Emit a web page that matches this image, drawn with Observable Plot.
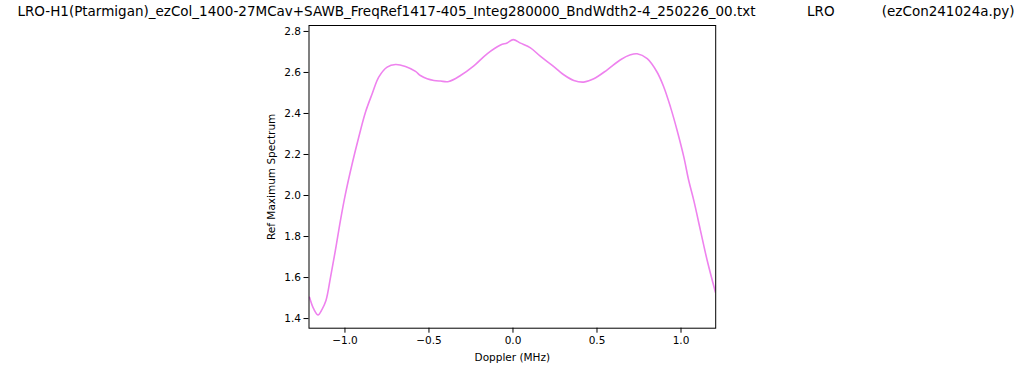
<!DOCTYPE html>
<html>
<head>
<meta charset="utf-8">
<script src="https://cdn.jsdelivr.net/npm/d3@7"></script>
<script src="https://cdn.jsdelivr.net/npm/@observablehq/plot@0.6"></script>
<style>
  html, body { margin: 0; padding: 0; background: #fff; }
  #wrap { position: relative; width: 1024px; height: 372px; overflow: hidden; font-family: "DejaVu Sans", sans-serif; }
  #title { position: absolute; left: 0; top: 3px; width: 1032px; text-align: center; white-space: pre; font-size: 13.5px; color: #000; }
  #chart { position: absolute; left: 0; top: 0; }
</style>
</head>
<body>
<div id="wrap">
  <div id="chart"></div>
  <div id="title"></div>
</div>
<script>
const titleText = "LRO-H1(Ptarmigan)_ezCol_1400-27MCav+SAWB_FreqRef1417-405_Integ280000_BndWdth2-4_250226_00.txt            LRO           (ezCon241024a.py)";
const xLabel = "Doppler (MHz)";
const yLabel = "Ref Maximum Spectrum";
const xTicks = [-1.0, -0.5, 0.0, 0.5, 1.0];
const yTicks = [1.4, 1.6, 1.8, 2.0, 2.2, 2.4, 2.6, 2.8];

const dopplerMHz = [
  -1.211, -1.186, -1.160, -1.137, -1.113, -1.086, -1.057, -1.027, -0.997, -0.957,
  -0.918, -0.878, -0.838, -0.799, -0.749, -0.699, -0.640, -0.580, -0.551, -0.511,
  -0.471, -0.432, -0.382, -0.3125, -0.233, -0.154, -0.074, -0.035, 0.001, 0.045,
  0.104, 0.164, 0.243, 0.302, 0.362, 0.421, 0.481, 0.561, 0.640, 0.699,
  0.739, 0.799, 0.858, 0.898, 0.9375, 0.977, 1.017, 1.046, 1.076, 1.116,
  1.156, 1.205
];
const refMaxSpectrum = [
  1.504, 1.447, 1.418, 1.444, 1.488, 1.601, 1.732, 1.878, 2.008, 2.155,
  2.284, 2.406, 2.496, 2.577, 2.626, 2.639, 2.629, 2.605, 2.585, 2.569,
  2.561, 2.558, 2.556, 2.585, 2.632, 2.691, 2.734, 2.744, 2.760, 2.743,
  2.720, 2.678, 2.629, 2.589, 2.561, 2.553, 2.569, 2.613, 2.662, 2.686,
  2.691, 2.667, 2.601, 2.528, 2.431, 2.317, 2.187, 2.073, 1.976, 1.829,
  1.683, 1.528
];

const data = dopplerMHz.map((x, i) => ({x, y: refMaxSpectrum[i]}));
document.getElementById("title").textContent = titleText;

const fmt = d3.format(".1f");
const chart = Plot.plot({
  width: 1024,
  height: 372,
  marginLeft: 308.5,
  marginRight: 308.8,
  marginTop: 25,
  marginBottom: 44.3,
  style: { fontFamily: "DejaVu Sans, sans-serif", fontSize: "10.5px", color: "#000", background: "#fff" },
  x: { domain: [-1.214, 1.2065] },
  y: { domain: [1.353, 2.829] },
  marks: [
    Plot.axisX({ ticks: xTicks, tickFormat: fmt, tickSize: 5, tickPadding: 3, stroke: "#000", strokeOpacity: 1, label: xLabel, labelAnchor: "center", labelArrow: "none", labelOffset: 33, fontSize: "10.5px" }),
    Plot.axisY({ ticks: yTicks, tickFormat: fmt, tickSize: 5, tickPadding: 3, stroke: "#000", strokeOpacity: 1, label: yLabel, labelAnchor: "center", labelArrow: "none", labelOffset: 41, fontSize: "10.5px" }),
    Plot.line(data, { x: "x", y: "y", stroke: "#EE82EE", strokeWidth: 1.6, curve: "catmull-rom", clip: true }),
    Plot.frame({ stroke: "#000", strokeWidth: 1 })
  ]
});
document.getElementById("chart").appendChild(chart);
</script>
</body>
</html>
